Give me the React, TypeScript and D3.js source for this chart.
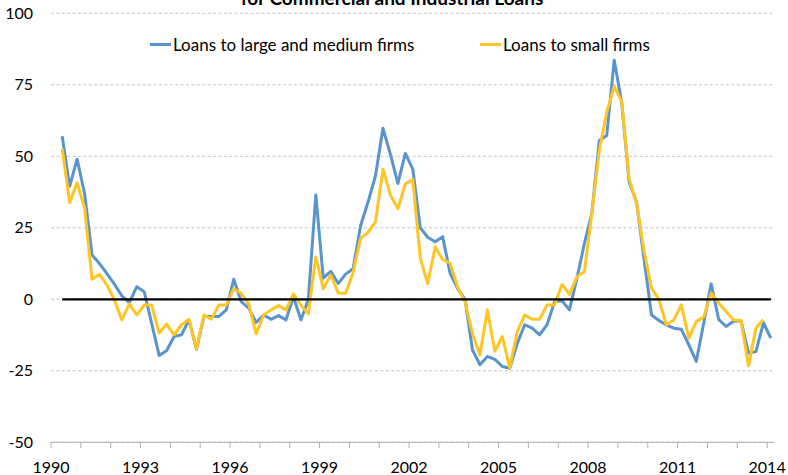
import React from "react";
import * as d3 from "d3";

// Categories: quarters 1990Q1 .. 2014Q1 (axis categories)
const quarters: string[] = [];
for (let y = 1990; y <= 2014; y++) {
  for (let q = 1; q <= 4; q++) {
    if (y === 2014 && q > 1) break;
    quarters.push(`${y}Q${q}`);
  }
}

// Series start at 1990Q2
const seriesStart = "1990Q2";

const largeMedium: (number | null)[] = [
  57, 39.5, 49, 37, 15.5, 12.5, 9, 5.3, 1.2, -1.2,
  4.4, 2.6, -8.5, -19.6, -18, -13, -12.4, -7.2, -17.5, -6,
  -6, -6, -3.7, 7, -0.8, -3.1, -8.1, -5.5, -7, -5.7,
  -7.2, 0.9, -7.2, 0, 36.5, 7.4, 9.8, 5.5, 8.8, 10.7,
  25.7, 34, 43.2, 59.8, 50.7, 40.5, 51, 45.5, 25, 21.7,
  20.1, 21.9, 9.1, 3.8, 0, -17.7, -22.9, -20, -21, -23.5,
  -24.1, -15.5, -8.9, -10.1, -12.4, -8.9, -0.8, -0.5, -3.7, 7.3,
  19.5, 30, 55.5, 57.3, 83.6, 68.9, 41, 34, 14, -5.5,
  -7.4, -9, -10.1, -10.5, -15.9, -21.7, -8.3, 5.4, -7, -9.5,
  -7.7, -7.5, -18.8, -18.3, -8.2, -13.6,
];

const smallFirms: (number | null)[] = [
  52.7, 33.8, 40.7, 32, 7, 8.7, 5, -0.2, -7.2, -1.6,
  -5.5, -2, -2, -11.8, -8.7, -12.4, -8.9, -7, -17.4, -5.5,
  -7, -2, -2, 3.7, 2.1, -1.6, -12.1, -5.5, -3.7, -2.2,
  -3.7, 1.9, -2, -5.1, 14.8, 3.7, 8.5, 2.2, 2.1, 9.4,
  21.3, 23.4, 27.1, 45.5, 36.5, 31.7, 40.3, 41.9, 14.4, 5.5,
  18.3, 13.9, 12.6, 4.4, -0.9, -12, -19.5, -3.7, -18.2, -13,
  -24, -11.3, -5.5, -7, -7, -2, -2, 5.2, 1.7, 7.9,
  9.6, 30, 52, 65.4, 74.4, 69.2, 42.2, 33.5, 17, 3.9,
  -0.1, -8.9, -7.2, -1.9, -13.6, -7.8, -6.2, 2.2, -1.3, -4.3,
  -7.2, -7.4, -23.3, -10, -7.2, null,
];

const tickYears = [1990, 1993, 1996, 1999, 2002, 2005, 2008, 2011, 2014];
const yTicks = [100, 75, 50, 25, 0, -25, -50];

const seriesNames = ["Loans to large and medium firms", "Loans to small firms"];
const title = "for Commercial and Industrial Loans";

const BLUE = "#5A94CC";
const YELLOW = "#FFC524";
const FONT = "Lato, 'Open Sans', sans-serif";

export default function App() {
  const W = 788;
  const H = 475;
  const x = d3.scaleBand<string>().domain(quarters).range([51, 774.6]).padding(0);
  const y = d3.scaleLinear().domain([-50, 100]).range([442.3, 13.3]);
  const bw = x.bandwidth();
  const offset = quarters.indexOf(seriesStart);
  const cx = (i: number) => (x(quarters[i + offset]) as number) + bw / 2;

  const line = d3
    .line<number | null>()
    .defined((d) => d !== null)
    .x((_, i) => cx(i))
    .y((d) => y(d as number));

  const zeroLine = d3
    .line<number | null>()
    .x((_, i) => cx(i))
    .y(() => y(0));

  const axisY = y(-50);
  const xTickQuarters = quarters.filter((q) => q.endsWith("Q1"));

  return (
    <div style={{ position: "fixed", left: 0, top: 0, width: W, height: H, background: "#fff" }}>
      <svg width={W} height={H} style={{ display: "block" }} fontFamily={FONT}>
        <rect width={W} height={H} fill="#fff" />
        {/* title (second line of a title whose top is cut off, as in the reference) */}
        <text x={392} y={5} textAnchor="middle" fontWeight="bold" fontSize={19} fill="#000">
          {title}
        </text>
        {/* gridlines */}
        {yTicks.map((t) => (
          <line
            key={"g" + t}
            x1={51}
            x2={774.6}
            y1={y(t)}
            y2={y(t)}
            stroke="#c4c4c4"
            strokeWidth={1}
            strokeDasharray="3,2.4"
          />
        ))}
        {/* y labels */}
        {yTicks.map((t) => (
          <text key={"yl" + t} x={33} y={y(t) + 5.5} textAnchor="end" fontSize={16} fill="#000">
            {t}
          </text>
        ))}
        {/* x axis */}
        <line x1={51} x2={774.6} y1={axisY} y2={axisY} stroke="#b0b0b0" strokeWidth={1} />
        {xTickQuarters.map((q) => (
          <line
            key={"t" + q}
            x1={x(q) as number}
            x2={x(q) as number}
            y1={axisY}
            y2={axisY + 6}
            stroke="#b0b0b0"
            strokeWidth={1}
          />
        ))}
        {tickYears.map((yr) => (
          <text
            key={"xl" + yr}
            x={x(`${yr}Q1`) as number}
            y={473}
            textAnchor="middle"
            fontSize={16}
            fill="#000"
          >
            {yr}
          </text>
        ))}
        {/* series */}
        <path d={line(largeMedium) || ""} fill="none" stroke={BLUE} strokeWidth={3} strokeLinejoin="round" />
        <path d={line(smallFirms) || ""} fill="none" stroke={YELLOW} strokeWidth={3} strokeLinejoin="round" />
        <path d={zeroLine(largeMedium) || ""} fill="none" stroke="#000" strokeWidth={2.2} />
        {/* legend */}
        <line x1={150} x2={171} y1={44.5} y2={44.5} stroke={BLUE} strokeWidth={3} />
        <text x={173} y={51} fontSize={17} fill="#000">
          {seriesNames[0]}
        </text>
        <line x1={480} x2={501} y1={44.5} y2={44.5} stroke={YELLOW} strokeWidth={3} />
        <text x={503} y={51} fontSize={17} fill="#000">
          {seriesNames[1]}
        </text>
      </svg>
    </div>
  );
}
